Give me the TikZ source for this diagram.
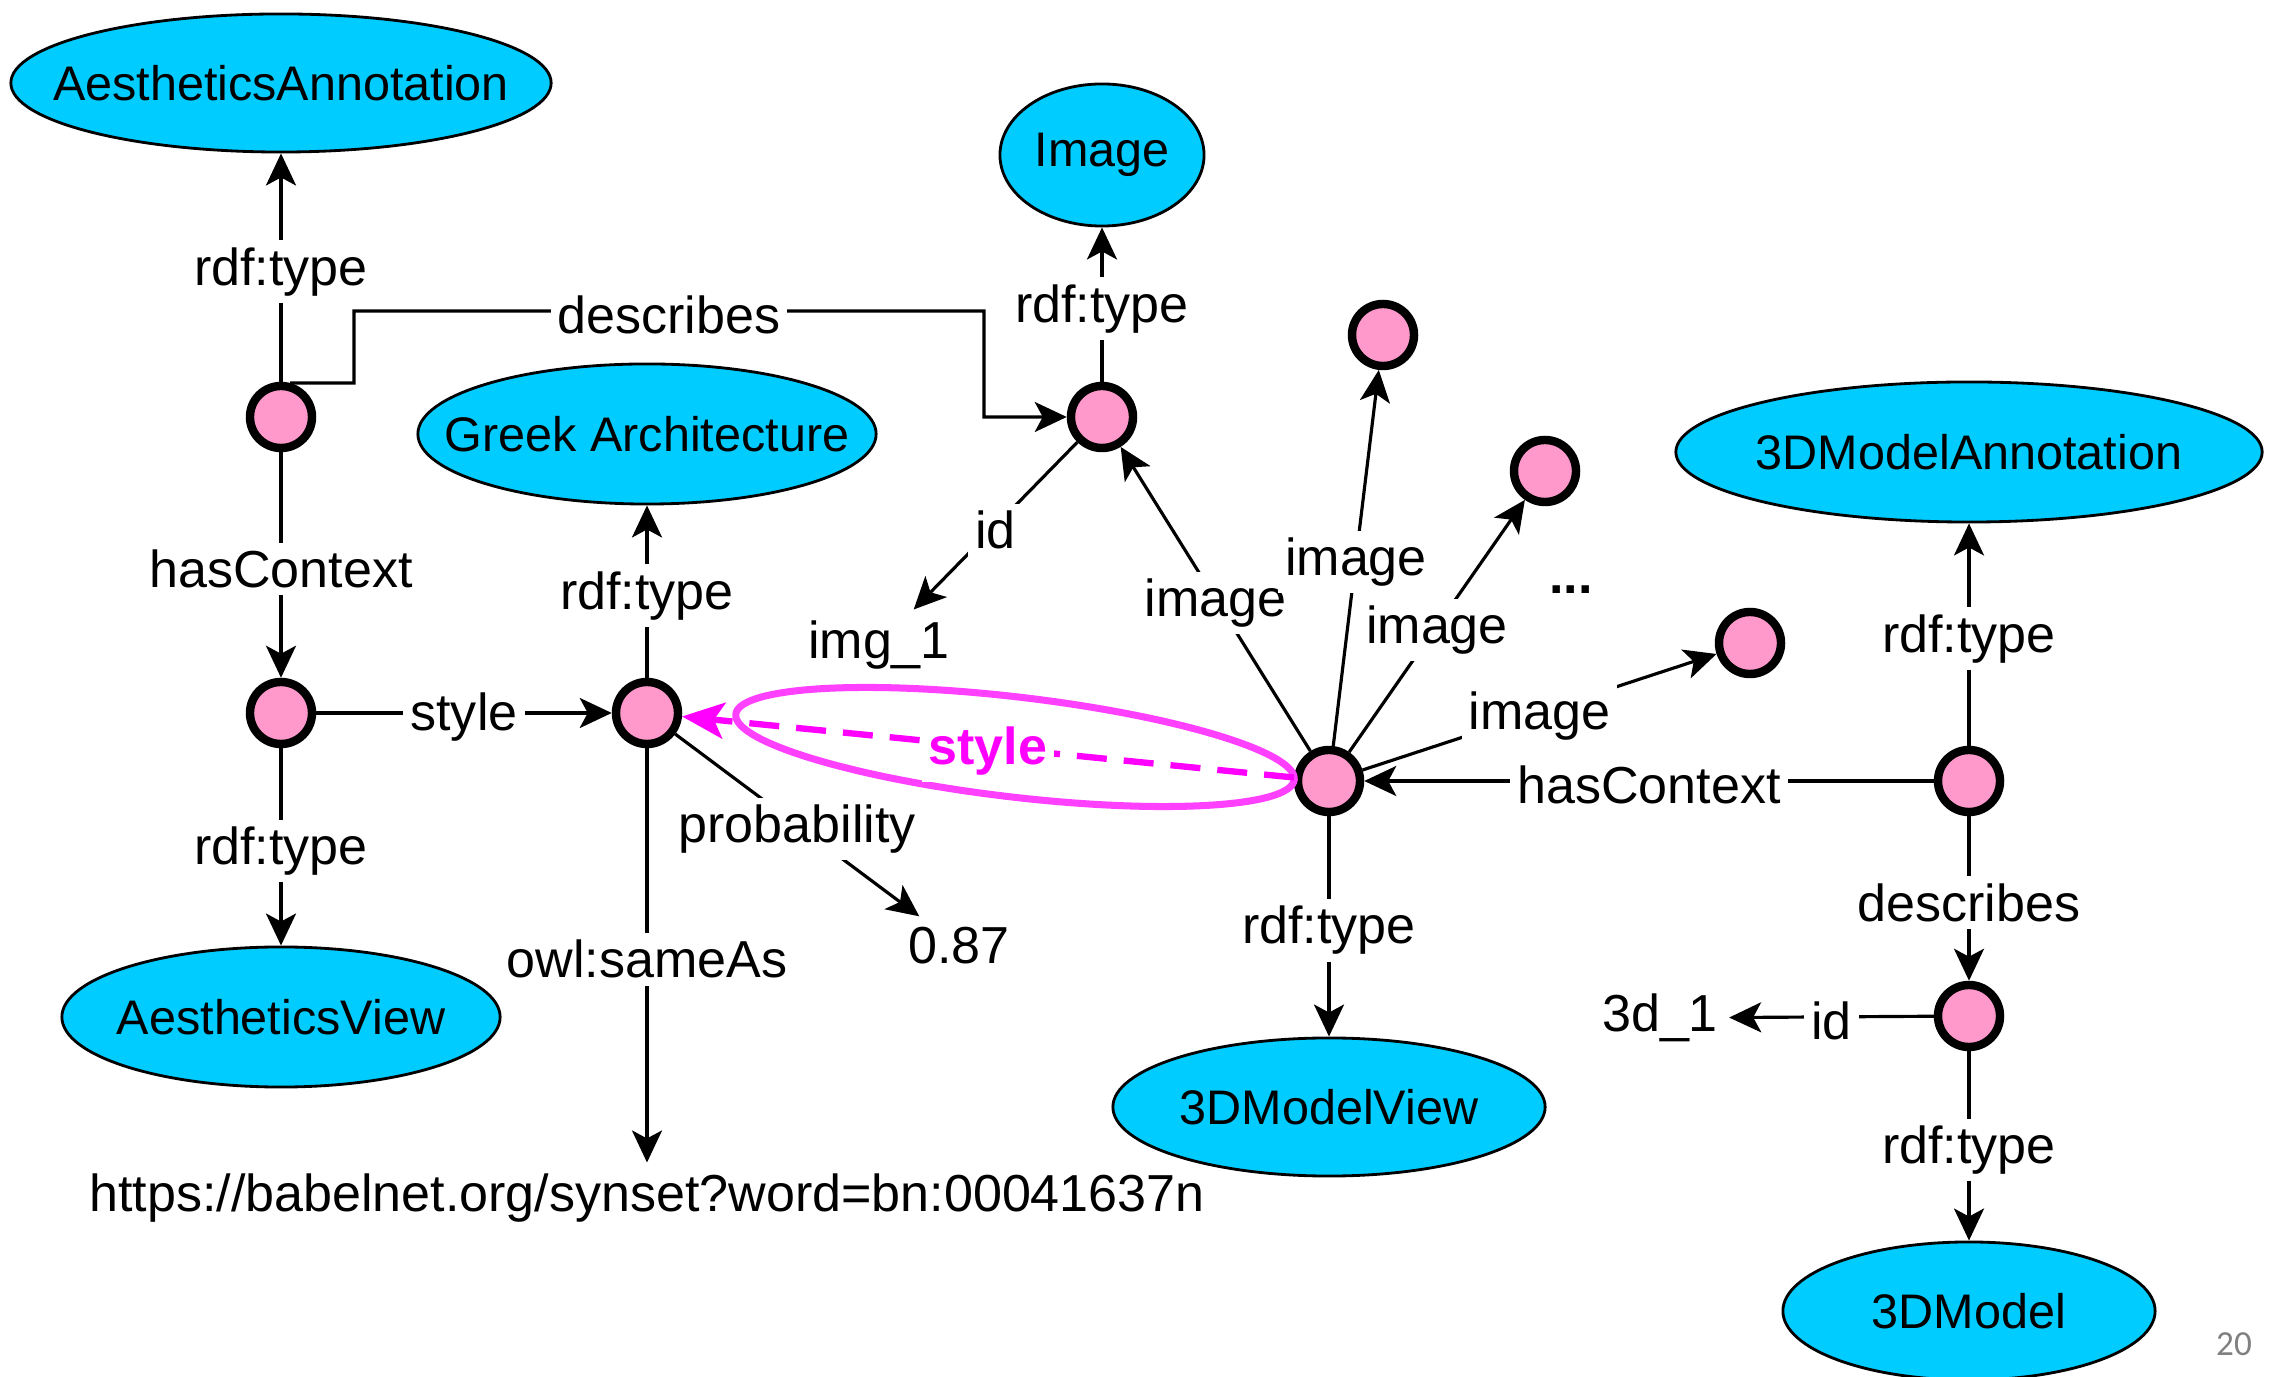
\documentclass[tikz,border=0pt]{standalone}
\usepackage{fontspec}
\setmainfont{Liberation Sans}
\newfontfamily\slidefont{Carlito}
\usepackage{tikz}
\usetikzlibrary{shapes.geometric, arrows.meta}
\definecolor{clsblue}{HTML}{00CCFF}
\definecolor{respink}{HTML}{FF99CC}
\definecolor{stylemag}{HTML}{FF00FF}
\definecolor{ringmag}{HTML}{FF40FF}
\newcommand{\clsname}[1]{\makebox[0pt]{#1}}

\begin{document}
\begin{tikzpicture}[x=0.01cm, y=-0.01cm,
    font=\fontsize{14.8}{17}\selectfont,
    cls/.style={ellipse, draw, fill=clsblue, line width=0.8pt, inner sep=0pt,
      font=\fontsize{13.8}{16}\selectfont},
    res/.style={circle, draw, fill=respink, line width=2.4pt, minimum size=0.62cm, inner sep=0pt},
    lit/.style={inner sep=3pt},
    lab/.style={fill=white, inner sep=2pt, yshift=-0.04cm},
    arr/.style={line width=0.9pt, -{Stealth[length=0.32cm,width=0.3cm,inset=0.08cm]}}]
  \useasboundingbox (0,0) rectangle (2285,1377);

  % classes
  \node[cls, minimum width=5.4cm, minimum height=1.38cm] (aa) at (281,83) {\clsname{AestheticsAnnotation}};
  \node[cls, minimum width=2.04cm, minimum height=1.42cm] (img) at (1102,155) {\clsname{Image}};
  \node[cls, minimum width=4.58cm, minimum height=1.4cm] (greek) at (647,434) {\clsname{Greek Architecture}};
  \node[cls, minimum width=5.86cm, minimum height=1.4cm] (mann) at (1969,452) {\clsname{3DModelAnnotation}};
  \node[cls, minimum width=4.38cm, minimum height=1.4cm] (av) at (281,1017) {\clsname{AestheticsView}};
  \node[cls, minimum width=4.32cm, minimum height=1.38cm] (mview) at (1329,1107) {\clsname{3DModelView}};
  \node[cls, minimum width=3.72cm, minimum height=1.38cm] (model) at (1969,1311) {\clsname{3DModel}};

  % resources
  \node[res] (c1) at (281,417) {};
  \node[res] (c2) at (1102,417) {};
  \node[res] (c3) at (1383,335) {};
  \node[res] (c4) at (1545,471) {};
  \node[res] (c5) at (1750,643) {};
  \node[res] (c6) at (281,713) {};
  \node[res] (c7) at (647,713) {};
  \node[res] (c8) at (1329,781) {};
  \node[res] (c9) at (1969,781) {};
  \node[res] (c10) at (1969,1016) {};

  % literals
  \node[lit] (imgid) at (879,645) {img\_1};
  \node[lit] (prob) at (959,946) {0.87};
  \node[lit] (url) at (647,1198) {https://babelnet.org/synset?word=bn:00041637n};
  \node[lit] (mid) at (1660,1018) {3d\_1};
  \node (more) at (1571,590) {\textbf{...}};
  \node[text=gray] (pg) at (2234,1344) {\slidefont\fontsize{10}{12}\selectfont 20};

  % left part
  \coordinate (d1) at (354,383);
  \coordinate (d2) at (984,311);
  \draw[arr] (c1.75) -- (d1) |- node[lab, pos=0.75] {describes} (d2) |- (c2);
  \draw[arr] (c1) -- node[lab] {rdf:type} (aa);
  \draw[arr] (c1) -- node[lab] {hasContext} (c6);
  \draw[arr] (c6) -- node[lab] {style} (c7);
  \draw[arr] (c6) -- node[lab] {rdf:type} (av);
  \draw[arr] (c7) -- node[lab] {rdf:type} (greek);
  \draw[arr] (c7) -- node[lab] {owl:sameAs} (url);
  \draw[arr] (c7) -- node[lab] {probability} (prob);
  \draw[arr] (c2) -- node[lab] {rdf:type} (img);
  \draw[arr] (c2) -- node[lab] {id} (imgid);

  % right part
  \foreach \t in {c2,c3,c4,c5}
    \draw[arr] (c8) -- node[lab] {image} (\t);
  \draw[arr] (c8) -- node[lab] {rdf:type} (mview);
  \draw[arr] (c9) -- node[lab] {hasContext} (c8);
  \draw[arr] (c9) -- node[lab] {rdf:type} (mann);
  \draw[arr] (c9) -- node[lab] {describes} (c10);
  \draw[arr] (c10) -- node[lab] {id} (mid);
  \draw[arr] (c10) -- node[lab] {rdf:type} (model);

  % highlighted style link
  \draw[ringmag, line width=2pt] (1015,747) ellipse [x radius=2.81cm, y radius=0.5cm, rotate=-6.7];
  \draw[stylemag, line width=1.8pt, dash pattern=on 0.3cm off 0.17cm,
        -{Stealth[length=0.42cm,width=0.36cm,inset=0.1cm]}]
    (c8) -- node[lab, text=stylemag, font=\fontsize{14.8}{17}\selectfont\bfseries] {style} (c7);
\end{tikzpicture}
\end{document}
